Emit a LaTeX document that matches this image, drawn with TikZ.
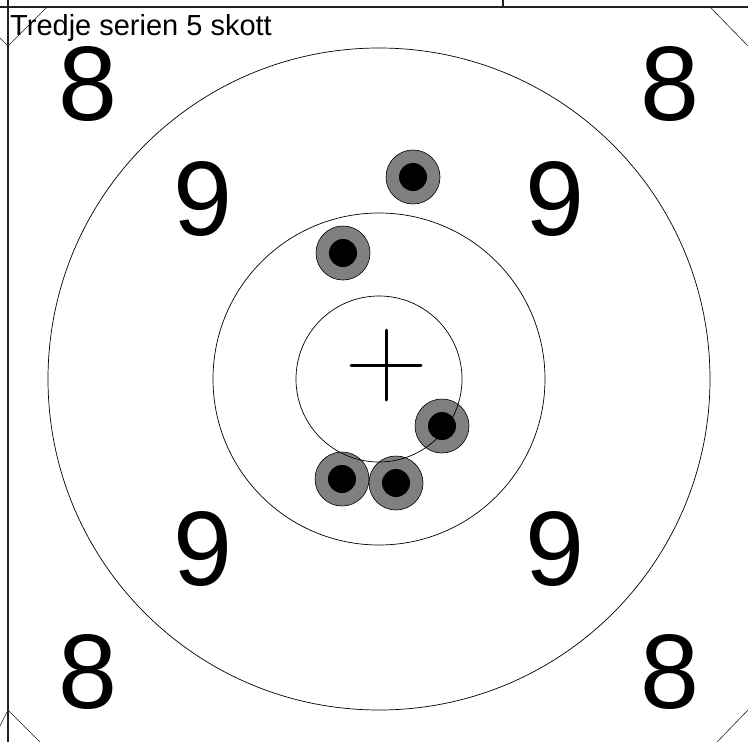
\documentclass[tikz,border=0pt]{standalone}
\usepackage{fontspec}
\setmainfont{Liberation Sans}
\usepackage{xcolor}
\definecolor{ink}{HTML}{000000}
\definecolor{frame}{HTML}{222222}
\definecolor{hole}{HTML}{808080}
\usepackage{tikz}
\usetikzlibrary{positioning}
\tikzset{
  ring/.style={draw=ink, line width=0.7pt},
  edge/.style={draw=frame, line width=1.2pt},
  cut/.style={draw=frame, line width=0.6pt},
  shot/.style={circle, draw=ink, line width=0.6pt, fill=hole, minimum size=54pt, inner sep=0pt,
    path picture={\fill[ink] (path picture bounding box.center) circle (14pt);}},
  score/.style={font=\fontsize{106}{106}\selectfont, text=ink, inner sep=0pt},
  title/.style={font=\fontsize{29}{29}\selectfont, text=ink, inner sep=0pt},
}

\begin{document}
\begin{tikzpicture}[x=1pt, y=-1pt]
  \useasboundingbox (0,0) rectangle (748,742);

  % sheet edges
  \draw[edge] (0,7) -- (748,7);
  \draw[edge] (8,0) -- (8,742);
  \draw[edge] (503,0) -- (503,7);
  \draw[cut] (0,38) -- (8,46) -- (46,8);
  \draw[cut] (0,726) -- (8,710) -- (40,742);
  \draw[cut] (711,8) -- (748,46);
  \draw[cut] (717,742) -- (748,710);

  \node[title, anchor=base west] (head) at (10,35) {Tredje serien 5 skott};

  % ring values
  \foreach \x/\y/\v [count=\i] in {88/84/8, 670/84/8, 88/672/8, 670/672/8,
                                   203/199/9, 555/199/9, 203/549/9, 555/549/9}
    \node[score] (val\i) at (\x,\y) {\v};

  % hits
  \foreach \x/\y [count=\i] in {413/177, 343/253, 442/426, 342/479, 396/483}
    \node[shot] (hit\i) at (\x,\y) {};

  \coordinate (mid) at (379,379);
  \draw[ring] (mid) circle (331);
  \draw[ring] (mid) circle (166);
  \draw[ring] (mid) circle (83);

  % aiming cross
  \coordinate (aim) at (386,365);
  \draw[ink, line width=3pt, line cap=round] ([xshift=-35pt]aim) -- ([xshift=35pt]aim);
  \draw[ink, line width=3pt, line cap=round] ([yshift=-35pt]aim) -- ([yshift=35pt]aim);
\end{tikzpicture}
\end{document}
